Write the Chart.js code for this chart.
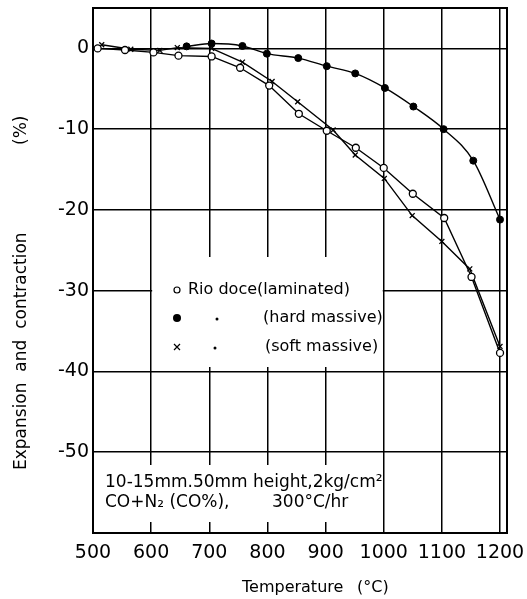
<!DOCTYPE html>
<html lang="en">
<head>
    <meta charset="UTF-8">
    <title>Expansion and contraction vs temperature</title>
    <script src="https://cdn.jsdelivr.net/npm/chart.js"></script>
    <style>
        body { margin: 0; padding: 0; background: #ffffff; }
        #wrap { width: 527px; height: 599px; position: relative; }
    </style>
</head>
<body>
<div id="wrap"><canvas id="chart"></canvas></div>
<script>
// data
var xTicks = [500, 600, 700, 800, 900, 1000, 1100, 1200];
var yTicks = [0, -10, -20, -30, -40, -50];

var rioTemp = [508, 555, 604, 647, 704, 753, 803, 854, 902, 952, 1000, 1050, 1104, 1151, 1200];
var rioVal  = [0, -0.2, -0.5, -0.9, -1.0, -2.4, -4.6, -8.1, -10.2, -12.3, -14.8, -18.0, -21.0, -28.3, -37.7];

var hardTemp = [661, 704, 757, 799, 853, 902, 951, 1002, 1051, 1103, 1154, 1200];
var hardVal  = [0.25, 0.6, 0.3, -0.65, -1.2, -2.2, -3.1, -4.9, -7.2, -10.0, -13.9, -21.2];

var softTemp = [515, 565, 615, 645, 704, 757, 808, 852, 913, 951, 1001, 1049, 1100, 1148, 1200];
var softVal  = [0.45, -0.1, -0.25, 0.1, 0, -1.7, -4.1, -6.6, -10.1, -13.2, -16.1, -20.7, -23.9, -27.3, -36.9];

var legendLines = ['Rio doce(laminated)', '(hard massive)', '(soft massive)'];
var noteLine1 = '10-15mm.50mm height,2kg/cm\u00b2';
var noteLine2 = ['CO+N\u2082 (CO%),', '300\u00b0C/hr'];
var xTitle = ['Temperature', '(\u00b0C)'];
var yTitle = ['Expansion  and  contraction', '(%)'];

function pts(xs, ys) {
    return xs.map(function (x, i) { return { x: x, y: ys[i] }; });
}

var FONT = '"DejaVu Sans", sans-serif';

// white boxes for legend and note, then frame and all free text
var boxes = {
    id: 'boxes',
    beforeDatasetsDraw: function (chart) {
        var ctx = chart.ctx, xs = chart.scales.x;
        ctx.save();
        ctx.fillStyle = '#fff';
        var l = xs.getPixelForValue(600) + 1, r = xs.getPixelForValue(1000) - 1;
        ctx.fillRect(l, 257, r - l, 110);
        var l2 = chart.chartArea.left + 1;
        ctx.fillRect(l2, 465, r - l2, 57);
        ctx.restore();
    },
    afterDatasetsDraw: function (chart) {
        var ctx = chart.ctx, a = chart.chartArea;
        ctx.save();
        ctx.strokeStyle = '#000';
        ctx.lineWidth = 2;
        ctx.strokeRect(a.left, a.top, a.right - a.left, a.bottom - a.top);

        ctx.fillStyle = '#000';
        ctx.textBaseline = 'middle';
        ctx.textAlign = 'left';
        ctx.font = '16px ' + FONT;
        // legend markers
        ctx.lineWidth = 1.2;
        ctx.beginPath(); ctx.arc(177, 290, 3, 0, Math.PI * 2); ctx.stroke();
        ctx.beginPath(); ctx.arc(177, 318, 4, 0, Math.PI * 2); ctx.fill();
        ctx.beginPath();
        ctx.moveTo(174, 344); ctx.lineTo(180, 350);
        ctx.moveTo(180, 344); ctx.lineTo(174, 350);
        ctx.stroke();
        // ditto marks
        ctx.beginPath(); ctx.arc(217, 319, 1.5, 0, Math.PI * 2); ctx.fill();
        ctx.beginPath(); ctx.arc(215, 348, 1.5, 0, Math.PI * 2); ctx.fill();
        ctx.fillText(legendLines[0], 188, 290);
        ctx.fillText(legendLines[1], 263, 318);
        ctx.fillText(legendLines[2], 265, 347);
        // note
        ctx.font = '17px ' + FONT;
        ctx.fillText(noteLine1, 105, 483);
        ctx.fillText(noteLine2[0], 105, 503);
        ctx.fillText(noteLine2[1], 272, 503);
        // axis titles
        ctx.font = '16px ' + FONT;
        ctx.fillText(xTitle[0], 242, 588);
        ctx.fillText(xTitle[1], 357, 588);
        ctx.save();
        ctx.translate(22, 470);
        ctx.rotate(-Math.PI / 2);
        ctx.font = '17px ' + FONT;
        ctx.fillText(yTitle[0], 0, 0);
        ctx.fillText(yTitle[1], 470 - 145, 0);
        ctx.restore();
        ctx.restore();
    }
};

new Chart(document.getElementById('chart'), {
    type: 'line',
    data: {
        datasets: [
            {
                label: 'Rio doce (laminated)',
                data: pts(rioTemp, rioVal),
                borderColor: '#000', borderWidth: 1.4,
                pointStyle: 'circle', pointRadius: 3.5,
                pointBackgroundColor: '#fff', pointBorderColor: '#000', pointBorderWidth: 1.3,
                tension: 0
            },
            {
                label: 'hard massive',
                data: pts(hardTemp, hardVal),
                borderColor: '#000', borderWidth: 1.4,
                pointStyle: 'circle', pointRadius: 3.5,
                pointBackgroundColor: '#000', pointBorderColor: '#000', pointBorderWidth: 1,
                cubicInterpolationMode: 'monotone'
            },
            {
                label: 'soft massive',
                data: pts(softTemp, softVal),
                borderColor: '#000', borderWidth: 1.4,
                pointStyle: 'crossRot', pointRadius: 3.5,
                pointBorderColor: '#000', pointBorderWidth: 1.3,
                tension: 0
            }
        ]
    },
    options: {
        responsive: true,
        maintainAspectRatio: false,
        animation: false,
        layout: { padding: { top: 8, right: 20, bottom: 0, left: 0 } },
        plugins: { legend: { display: false }, tooltip: { enabled: false } },
        scales: {
            x: {
                type: 'linear', min: 500, max: 1212,
                afterBuildTicks: function (s) { s.ticks = xTicks.map(function (v) { return { value: v }; }); },
                afterFit: function (s) { s.height = 66; s.paddingLeft = 0; s.paddingRight = 0; },
                grid: { color: '#000', lineWidth: 1.5, drawTicks: false },
                border: { display: false },
                ticks: { color: '#000', padding: 9, maxRotation: 0, font: { family: FONT, size: 19 },
                         callback: function (v) { return String(v); } }
            },
            y: {
                type: 'linear', min: -60, max: 5,
                afterBuildTicks: function (s) { s.ticks = yTicks.map(function (v) { return { value: v }; }); },
                afterFit: function (s) { s.width = 93; s.paddingTop = 0; s.paddingBottom = 0; },
                grid: { color: '#000', lineWidth: 1.5, drawTicks: false },
                border: { display: false },
                ticks: { color: '#000', padding: 4, font: { family: FONT, size: 19 },
                         callback: function (v) { return String(v); } }
            }
        }
    },
    plugins: [boxes]
});
</script>
</body>
</html>
